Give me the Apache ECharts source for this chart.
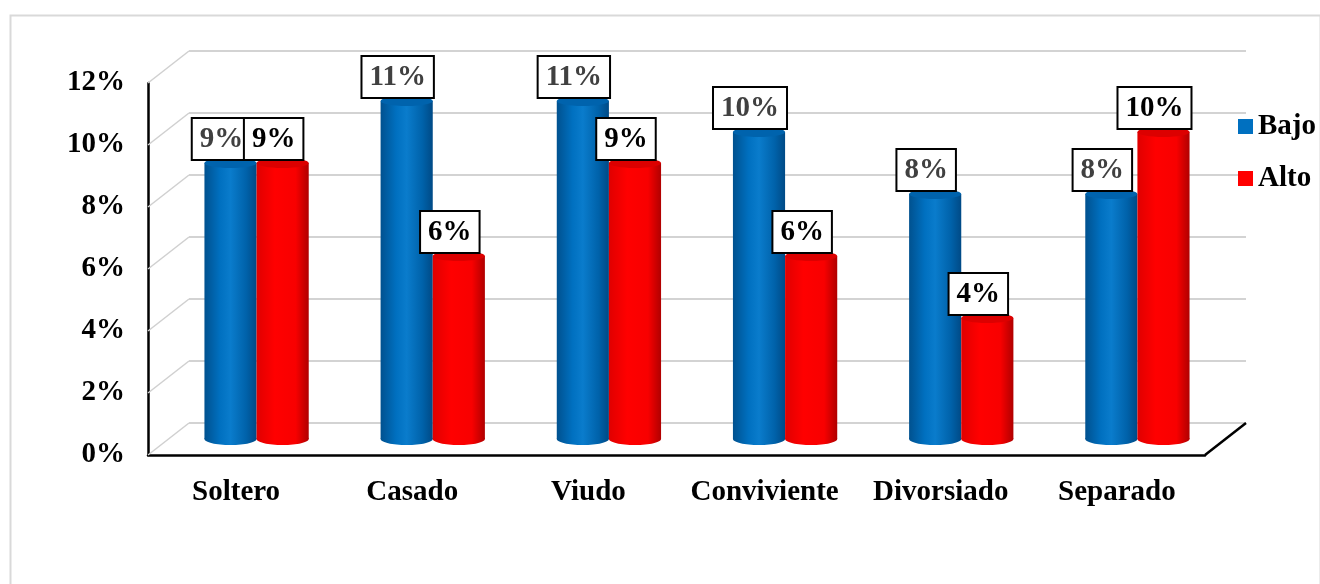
<!DOCTYPE html>
<html>
<head>
<meta charset="utf-8">
<script src="https://cdn.jsdelivr.net/npm/echarts@6/dist/echarts.min.js"></script>
<style>
  html, body { margin: 0; padding: 0; background: #ffffff; }
  #chart { width: 1320px; height: 584px; }
</style>
</head>
<body>
<div id="chart"></div>
<script>
// Estado civil: porcentaje por nivel (Bajo / Alto)
const categories = ['Soltero', 'Casado', 'Viudo', 'Conviviente', 'Divorsiado', 'Separado'];
const bajo = [9, 11, 11, 10, 8, 8];
const alto = [9, 6, 9, 6, 4, 10];
const seriesNames = ['Bajo', 'Alto'];
const yMin = 0, yMax = 12, yStep = 2;
const gridTicks = [0, 2, 4, 6, 8, 10, 12];

// depth of the 3D box (back wall offset from the front plane)
const DX = 41, DY = -32;
const FONT = '"Times New Roman", "Liberation Serif", serif';
const FS = 29;

const chart = echarts.init(document.getElementById('chart'));

function cylinder(side, colors, labelColor) {
  return function (params, api) {
    const idx = api.value(0), v = api.value(1);
    const top = api.coord([idx, v]);
    const base = api.coord([idx, 0]);
    const band = api.size([1, 0])[0];
    const w = band * 0.296;
    const cx = top[0] + DX / 2 + side * w / 2;
    const yTop = top[1] + DY / 2 + 3;
    const yBase = base[1] + DY / 2;
    const ry = 6;
    const body = new echarts.graphic.LinearGradient(0, 0, 1, 0, colors.body);
    return {
      type: 'group',
      children: [
        { type: 'ellipse', z2: 1, shape: { cx: cx, cy: yBase, rx: w / 2, ry: ry }, style: { fill: body } },
        { type: 'rect', z2: 2, shape: { x: cx - w / 2, y: yTop, width: w, height: yBase - yTop }, style: { fill: body } },
        { type: 'ellipse', z2: 3, shape: { cx: cx, cy: yTop, rx: w / 2, ry: ry - 1 }, style: { fill: colors.cap } },
        {
          type: 'text', z2: 100,
          style: {
            text: v + '%', x: cx - 9, y: yTop - 4, align: 'center', verticalAlign: 'bottom',
            font: 'bold ' + FS + 'px ' + FONT, fill: labelColor,
            backgroundColor: '#ffffff', borderColor: '#000000', borderWidth: 2,
            padding: [6, 7, 5, 7]
          }
        }
      ]
    };
  };
}

const blueColors = {
  body: [
    { offset: 0, color: '#00518f' }, { offset: 0.3, color: '#0070c0' },
    { offset: 0.5, color: '#0a7ccc' }, { offset: 0.8, color: '#0062aa' }, { offset: 1, color: '#004a86' }
  ],
  cap: '#0063ad'
};
const redColors = {
  body: [
    { offset: 0, color: '#e00000' }, { offset: 0.35, color: '#ff0000' },
    { offset: 0.75, color: '#f80000' }, { offset: 1, color: '#b00000' }
  ],
  cap: '#dc0000'
};

// back wall edges: diagonals from the front axis to the back wall at each grid level
function wallEdges(params, api) {
  const cs = params.coordSys;
  const v = api.value(1);
  const y = api.coord([0, v])[1];
  const children = [{
    type: 'line', shape: { x1: cs.x - DX, y1: y - DY, x2: cs.x, y2: y },
    style: { stroke: '#d0d0d0', lineWidth: 1.5 }
  }];
  if (v === yMin) {
    children.push({
      type: 'line', shape: { x1: cs.x + cs.width - DX, y1: y - DY, x2: cs.x + cs.width, y2: y },
      style: { stroke: '#000000', lineWidth: 2.5 }
    });
  }
  return { type: 'group', children: children };
}

const option = {
  backgroundColor: '#ffffff',
  animation: false,
  graphic: [{
    type: 'rect', left: 8, top: 13,
    shape: { width: 1310, height: 600 },
    style: { fill: 'none', stroke: '#d9d9d9', lineWidth: 2 }, z: -10
  }],
  legend: {
    data: seriesNames,
    orient: 'vertical',
    left: 1238, top: 112, padding: 0,
    icon: 'rect', itemWidth: 15, itemHeight: 15, itemGap: 23,
    textStyle: { fontFamily: FONT, fontWeight: 'bold', fontSize: FS, color: '#000' }
  },
  grid: [
    { left: 148, top: 83, width: 1057, height: 372 },
    { left: 148 + DX, top: 83 + DY, width: 1057, height: 372 }
  ],
  xAxis: [
    {
      type: 'category', gridIndex: 0, data: categories,
      axisLine: { lineStyle: { color: '#000', width: 2.5 } },
      axisTick: { show: false },
      axisLabel: { interval: 0, margin: 23, fontFamily: FONT, fontWeight: 'bold', fontSize: FS, color: '#000' }
    },
    { type: 'category', gridIndex: 1, data: categories, show: false }
  ],
  yAxis: [
    {
      type: 'value', gridIndex: 0, min: yMin, max: yMax, interval: yStep,
      axisLine: { show: true, lineStyle: { color: '#000', width: 2.5 } },
      axisTick: { show: false },
      splitLine: { show: false },
      axisLabel: { margin: 23, formatter: '{value}%', fontFamily: FONT, fontWeight: 'bold', fontSize: FS, color: '#000' }
    },
    {
      type: 'value', gridIndex: 1, min: yMin, max: yMax, interval: yStep,
      axisLine: { show: false }, axisTick: { show: false }, axisLabel: { show: false },
      splitLine: { lineStyle: { color: '#d3d3d3', width: 2 } }
    }
  ],
  series: [
    {
      type: 'custom', name: 'wall', xAxisIndex: 1, yAxisIndex: 1, z: 1, silent: true,
      data: gridTicks.map(t => [0, t]), encode: { x: 0, y: 1 },
      renderItem: wallEdges
    },
    {
      type: 'custom', name: seriesNames[0], xAxisIndex: 0, yAxisIndex: 0, z: 3,
      itemStyle: { color: '#0070C0' },
      data: bajo.map((v, i) => [i, v]), encode: { x: 0, y: 1 },
      renderItem: cylinder(-1, blueColors, '#404040')
    },
    {
      type: 'custom', name: seriesNames[1], xAxisIndex: 0, yAxisIndex: 0, z: 3,
      itemStyle: { color: '#FF0000' },
      data: alto.map((v, i) => [i, v]), encode: { x: 0, y: 1 },
      renderItem: cylinder(1, redColors, '#000000')
    }
  ]
};

chart.setOption(option);
</script>
</body>
</html>
